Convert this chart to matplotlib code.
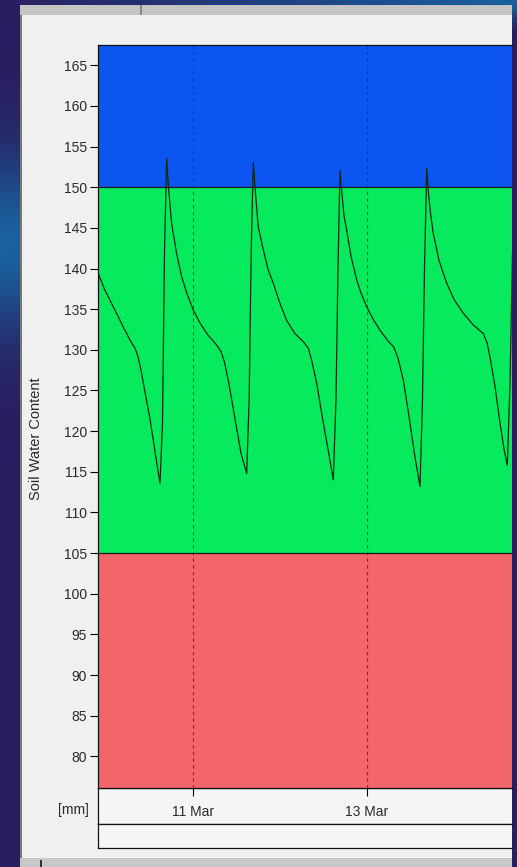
import numpy as np
import matplotlib
matplotlib.use("Agg")
import matplotlib.pyplot as plt
import matplotlib.dates as mdates
from matplotlib.patches import Rectangle
from datetime import datetime, timedelta

# ---- data ----
hours_from_11mar = [
    -26.12, -24.55, -22.90, -20.97, -19.23, -17.38, -16.00, -15.17, -14.34, -13.24,
    -11.86, -10.48, -9.10, -8.41, -7.86, -7.26,
    -6.79, -5.88, -4.50, -3.12, -1.74, 0.08, 1.93, 4.14, 6.34, 7.72, 8.69, 9.93,
    11.59, 13.24, 14.81, 15.50, 16.06, 16.63,
    17.10, 18.01, 19.39, 20.77, 22.15, 24.00, 25.85, 28.14, 30.43, 31.81, 32.74,
    34.12, 35.95, 37.79, 38.70, 39.45, 40.00, 40.55,
    41.02, 41.65, 42.40, 43.59, 45.16, 46.34, 47.92, 49.66, 51.59, 53.79, 55.45,
    56.55, 58.01, 59.59, 61.24, 62.62, 63.31, 63.86, 64.47,
    64.91, 65.52, 66.29, 67.86, 69.98, 72.00, 74.57, 77.24, 80.08, 81.10, 81.93,
    83.31, 84.69, 85.79, 86.70, 87.45, 88.14]
soil_water = [
    139.4, 137.6, 136.1, 134.4, 132.8, 131.2, 130.2, 129.2, 127.5, 124.8,
    121.5, 117.5, 113.6, 121.0, 142.0, 153.5,
    150.2, 145.5, 141.8, 139.0, 137.0, 134.9, 133.3, 131.8, 130.7, 129.8, 128.5, 125.8,
    121.5, 117.3, 114.8, 124.0, 142.0, 153.1,
    150.0, 145.1, 142.3, 139.8, 138.2, 135.7, 133.6, 132.0, 131.0, 130.2, 128.7,
    125.9, 121.0, 116.4, 114.0, 124.0, 140.0, 152.1,
    149.5, 146.5, 144.7, 141.5, 138.6, 137.0, 135.3, 133.8, 132.4, 131.1, 130.3,
    129.0, 126.3, 121.8, 116.8, 113.2, 124.0, 140.0, 152.3,
    149.5, 146.8, 144.3, 141.0, 138.2, 136.2, 134.5, 133.1, 132.0, 130.9, 129.1,
    125.5, 121.0, 117.8, 115.8, 126.0, 142.0]
zone_edges = [76.1, 105, 150, 167.5]          # red / green / blue bands
zone_colors = ["#f2656a", "#08ea5e", "#0d55f2"]
y_ticks = list(range(80, 170, 5))
ylabel = "Soil Water Content"
unit_label = "[mm]"

base = datetime(2010, 3, 11)
times = [base + timedelta(hours=h) for h in hours_from_11mar]
x_start = base + timedelta(hours=-26.2)
x_end = base + timedelta(hours=88.0)

W, H = 517, 867
fig = plt.figure(figsize=(W / 100, H / 100), dpi=100)

def fx(px):
    return px / W

def fy(py):
    return 1 - py / H

# ---- background gradient ----
bg = fig.add_axes([0, 0, 1, 1], zorder=-10)
yy = np.linspace(0, 1, 200)[:, None]
xx = np.linspace(0, 1, 100)[None, :]
base_col = np.array([0.16, 0.12, 0.38])
glow_col = np.array([0.10, 0.38, 0.62])
glow = np.exp(-((yy - 0.28) / 0.10) ** 2) * np.exp(-(xx / 0.35) ** 2)
top = np.exp(-(yy / 0.02) ** 2) * np.clip(xx, 0, 1)
w = np.clip(glow + top, 0, 1)[..., None]
img = base_col * (1 - w) + glow_col * w
bg.imshow(img, aspect="auto", extent=[0, 1, 1, 0])
bg.set_xlim(0, 1); bg.set_ylim(1, 0)
bg.axis("off")

# ---- window panel ----
fig.patches.append(Rectangle((fx(20), fy(858)), fx(512) - fx(20), fy(15) - fy(858),
                             transform=fig.transFigure, facecolor="#f0f0f0",
                             edgecolor="none", zorder=-5))
fig.patches.append(Rectangle((fx(20), fy(858)), fx(1.5), fy(15) - fy(858),
                             transform=fig.transFigure, facecolor="#777777",
                             edgecolor="none", zorder=-4))
fig.patches.append(Rectangle((fx(20), fy(15)), fx(512) - fx(20), fy(5) - fy(15),
                             transform=fig.transFigure, facecolor="#c4c4c4",
                             edgecolor="none", zorder=-4))
fig.patches.append(Rectangle((fx(20), fy(867)), fx(512) - fx(20), fy(858) - fy(867),
                             transform=fig.transFigure, facecolor="#c8c8c8",
                             edgecolor="none", zorder=-4))
fig.patches.append(Rectangle((fx(140), fy(15)), fx(2), fy(5) - fy(15),
                             transform=fig.transFigure, facecolor="#888888",
                             edgecolor="none", zorder=-3))
fig.patches.append(Rectangle((fx(40), fy(867)), fx(1.5), fy(860) - fy(867),
                             transform=fig.transFigure, facecolor="#333333",
                             edgecolor="none", zorder=-3))

# ---- main axes ----
ax = fig.add_axes([fx(98), fy(788), fx(512) - fx(98), fy(45) - fy(788)])
for lo, hi, c in zip(zone_edges[:-1], zone_edges[1:], zone_colors):
    ax.axhspan(lo, hi, color=c, zorder=0, linewidth=0)
for e in zone_edges[1:-1]:
    ax.axhline(e, color="#1a1a1a", linewidth=0.9, zorder=1)

ax.plot(times, soil_water, color="#0b2a10", linewidth=0.9, zorder=3)

ax.set_xlim(x_start, x_end)
ax.set_ylim(zone_edges[0], zone_edges[-1])
ax.set_yticks(y_ticks)
ax.tick_params(axis="y", length=6, width=0.8, labelsize=10, pad=2,
               labelcolor="#2a2a2a")
ax.xaxis.set_major_locator(mdates.DayLocator(bymonthday=[11, 13]))
ax.xaxis.set_major_formatter(mdates.DateFormatter("%d %b"))
ax.tick_params(axis="x", length=6, width=0.8, labelsize=10, pad=6,
               labelcolor="#2a2a2a")
for t in [base, base + timedelta(days=2)]:
    ax.axvline(t, color="#333333", linewidth=0.8, linestyle=(0, (3, 3)),
               alpha=0.8, zorder=2)
for lab in ax.get_xticklabels() + ax.get_yticklabels():
    lab.set_fontfamily("Liberation Sans")
ax.spines["right"].set_visible(False)
for s in ["left", "top", "bottom"]:
    ax.spines[s].set_linewidth(0.9)
    ax.spines[s].set_color("#111111")

# ---- lower bands ----
for top_px, bot_px in [(788, 824), (824, 848)]:
    b = fig.add_axes([fx(98), fy(bot_px), fx(512) - fx(98), fy(top_px) - fy(bot_px)])
    b.set_facecolor("#f5f5f5")
    b.set_xticks([]); b.set_yticks([])
    b.spines["right"].set_visible(False)
    for s in ["left", "bottom", "top"]:
        b.spines[s].set_linewidth(0.9)
        b.spines[s].set_color("#111111")
    b.set_zorder(-1)
ax.set_zorder(1)

fig.text(fx(36), fy(439), ylabel, rotation=90, ha="center", va="center",
         fontsize=10.5, color="#2a2a2a", family="Liberation Sans")
fig.text(fx(73), fy(810), unit_label, ha="center", va="center",
         fontsize=10, color="#2a2a2a", family="Liberation Sans")

fig.savefig("out.png", dpi=100)
